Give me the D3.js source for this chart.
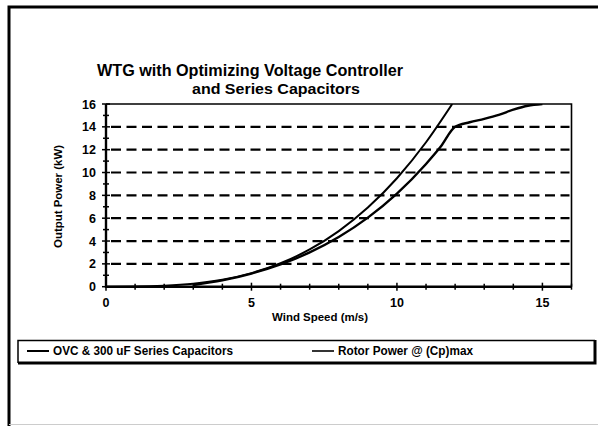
<!DOCTYPE html>
<html><head><meta charset="utf-8">
<script src="https://cdn.jsdelivr.net/npm/d3@7"></script>
<style>
html,body{margin:0;padding:0;background:#fff;}
svg{display:block;font-family:"Liberation Sans",Arial,sans-serif;}
</style></head>
<body><svg id="c" width="598" height="426"></svg>
<script>
// ---- data ----
const titleLines = ["WTG with Optimizing Voltage Controller", "and Series Capacitors"];
const xLabel = "Wind Speed (m/s)";
const yLabel = "Output Power (kW)";
const seriesNames = ["OVC & 300 uF Series Capacitors", "Rotor Power @ (Cp)max"];
const xTicks = [0, 5, 10, 15];
const yTicks = [0, 2, 4, 6, 8, 10, 12, 14, 16];
// OVC & 300 uF Series Capacitors: wind speed (m/s), power (kW)
const ovcSpeed = [3, 4, 5, 6, 7, 8, 9, 10, 11, 11.5, 12, 12.5, 13, 13.5, 14, 14.5, 15];
const ovcPower = [0.15, 0.55, 1.15, 1.95, 3.0, 4.35, 6.05, 8.15, 10.75, 12.25, 14.0, 14.4, 14.7, 15.05, 15.5, 15.85, 16.0];
// Rotor Power @ (Cp)max
const rotorSpeed = [0, 1, 2, 3, 4, 5, 6, 7, 8, 9, 10, 11, 11.9];
const rotorPower = [0, 0.01, 0.08, 0.26, 0.61, 1.19, 2.05, 3.26, 4.87, 6.93, 9.5, 12.65, 16.0];

const svg = d3.select("#c");
svg.append("rect").attr("width",598).attr("height",426).attr("fill","#fff");

// outer border
svg.append("path").attr("d","M9,430 L9,7 L600,7").attr("fill","none").attr("stroke","#000").attr("stroke-width",3);
svg.append("line").attr("x1",9).attr("x2",598).attr("y1",424.5).attr("y2",424.5).attr("stroke","#ccc").attr("stroke-width",1);

const x = d3.scaleLinear().domain([0,16]).range([106,571.5]);
const y = d3.scaleLinear().domain([0,16]).range([286.7,104]);

// title
const t = svg.append("g").attr("font-weight","bold").attr("fill","#000");
t.append("text").attr("x",97).attr("y",76).attr("font-size",16)
  .attr("textLength",306).attr("lengthAdjust","spacingAndGlyphs").text(titleLines[0]);
t.append("text").attr("x",192).attr("y",93.5).attr("font-size",15)
  .attr("textLength",168).attr("lengthAdjust","spacingAndGlyphs").text(titleLines[1]);

// gridlines
svg.append("g").selectAll("line").data(yTicks.filter(d=>d>0&&d<16)).join("line")
  .attr("x1",x(0)+5).attr("x2",x(16)-2).attr("y1",d=>y(d)).attr("y2",d=>y(d))
  .attr("stroke","#000").attr("stroke-width",2.2).attr("stroke-dasharray","10,5.5");

// frame top & right
svg.append("path").attr("d",`M${x(0)},${y(16)} L${x(16)},${y(16)} L${x(16)},${y(0)}`)
  .attr("fill","none").attr("stroke","#000").attr("stroke-width",1.6);

// curves
svg.append("clipPath").attr("id","clip").append("rect")
  .attr("x",x(0)).attr("y",y(16)).attr("width",x(16)-x(0)).attr("height",y(0)-y(16));
const line = d3.line().x(d=>x(d[0])).y(d=>y(d[1])).curve(d3.curveMonotoneX);
const ovc = ovcSpeed.map((v,i)=>[v,ovcPower[i]]);
const rotor = rotorSpeed.map((v,i)=>[v,rotorPower[i]]);
const cg = svg.append("g").attr("clip-path","url(#clip)");
cg.append("path").attr("d",line(rotor)).attr("fill","none").attr("stroke","#000").attr("stroke-width",2);
cg.append("path").attr("d",line(ovc)).attr("fill","none").attr("stroke","#000").attr("stroke-width",2.4);

// axes lines
svg.append("line").attr("x1",x(0)).attr("x2",x(0)).attr("y1",y(16)).attr("y2",y(0)+1)
  .attr("stroke","#000").attr("stroke-width",2.4);
svg.append("line").attr("x1",x(0)-1).attr("x2",x(16)).attr("y1",y(0)).attr("y2",y(0))
  .attr("stroke","#000").attr("stroke-width",2.4);

// ticks
const xMinor = d3.range(0,17,1);
svg.append("g").selectAll("line").data(xMinor).join("line")
  .attr("x1",d=>x(d)).attr("x2",d=>x(d))
  .attr("y1",d=>y(0)-(d%5===0?4:3)).attr("y2",d=>y(0)+(d%5===0?4:3))
  .attr("stroke","#000").attr("stroke-width",1.5);
const yMinor = d3.range(0,17,1);
svg.append("g").selectAll("line").data(yMinor).join("line")
  .attr("y1",d=>y(d)).attr("y2",d=>y(d))
  .attr("x1",d=>x(0)-(d%2===0?4:3)).attr("x2",d=>x(0)+(d%2===0?4:3))
  .attr("stroke","#000").attr("stroke-width",1.5);

// tick labels
svg.append("g").attr("font-size",12.5).attr("font-weight","bold").attr("text-anchor","middle")
  .selectAll("text").data(xTicks).join("text")
  .attr("x",d=>x(d)).attr("y",307).text(d=>d);
svg.append("g").attr("font-size",12.5).attr("font-weight","bold").attr("text-anchor","end")
  .selectAll("text").data(yTicks).join("text")
  .attr("x",96).attr("y",d=>y(d)+4.5).text(d=>d);

// axis titles
svg.append("text").attr("x",320).attr("y",320.5).attr("text-anchor","middle")
  .attr("font-size",11.5).attr("font-weight","bold")
  .attr("textLength",96).attr("lengthAdjust","spacingAndGlyphs").text(xLabel);
svg.append("text").attr("transform","translate(61.5,196.5) rotate(-90)").attr("text-anchor","middle")
  .attr("font-size",11.5).attr("font-weight","bold")
  .attr("textLength",103).attr("lengthAdjust","spacingAndGlyphs").text(yLabel);

// legend
const lg = svg.append("g");
lg.append("path").attr("d","M18,363 L18,340.5 L595,340.5").attr("fill","none").attr("stroke","#000").attr("stroke-width",1.5);
lg.append("path").attr("d","M18,363 L595,363 L595,340").attr("fill","none").attr("stroke","#000").attr("stroke-width",3);
const legX = [27, 312];
const legTextX = [53, 338];
const legW = [180, 135];
seriesNames.forEach((n,i)=>{
  lg.append("line").attr("x1",legX[i]).attr("x2",legX[i]+22).attr("y1",351).attr("y2",351)
    .attr("stroke","#000").attr("stroke-width",i===0?2:1.6);
  lg.append("text").attr("x",legTextX[i]).attr("y",354.5).attr("font-size",12).attr("font-weight","bold")
    .attr("textLength",legW[i]).attr("lengthAdjust","spacingAndGlyphs").text(n);
});
</script></body></html>
